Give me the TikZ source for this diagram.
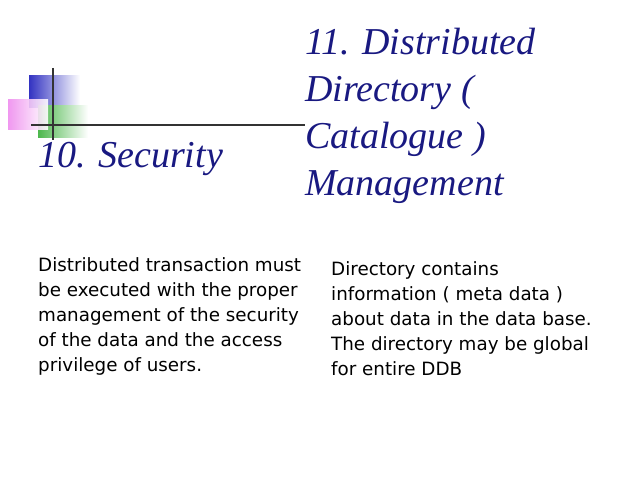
\documentclass[tikz,border=0pt]{standalone}
\usepackage{fontspec}
\setmainfont{Liberation Serif}
\newfontfamily\bodyfont{DejaVu Sans}
\begin{document}
\begin{tikzpicture}[x=1pt,y=-1pt,
  ttl/.style={anchor=base west,inner sep=0pt,font=\fontsize{38}{47}\selectfont\itshape,text=blue!45!black!90},
  body/.style={anchor=north west,inner sep=0pt,align=left,font=\bodyfont\fontsize{18.3}{25}\selectfont}]
\useasboundingbox (0,0) rectangle (638,478);
\shade[left color=blue!70!black!80,right color=white] (29,76) rectangle (80,108);
\shade[left color=green!60!black!70,right color=white] (38,106) rectangle (88,138);
\shade[left color=violet!30!magenta!45,right color=white,opacity=0.9] (8,100) rectangle (48,130);
\draw[line width=1.5pt,black!80] (53,68) -- (53,140);
\draw[line width=1.5pt,black!80] (31,125) -- (305,125);
\node[ttl] (t1) at (38,168) {10. Security};
\node[ttl] (t2) at (305,55) {11. Distributed};
\node[ttl] (t3) at (305,102) {Directory (};
\node[ttl] (t4) at (305,149) {Catalogue )};
\node[ttl] (t5) at (305,196) {Management};
\node[body] (b1) at (38,257) {Distributed transaction must\\be executed with the proper\\management of the security\\of the data and the access\\privilege of users.};
\node[body] (b2) at (331,261) {Directory contains\\information ( meta data )\\about data in the data base.\\The directory may be global\\for entire DDB};
\end{tikzpicture}
\end{document}
